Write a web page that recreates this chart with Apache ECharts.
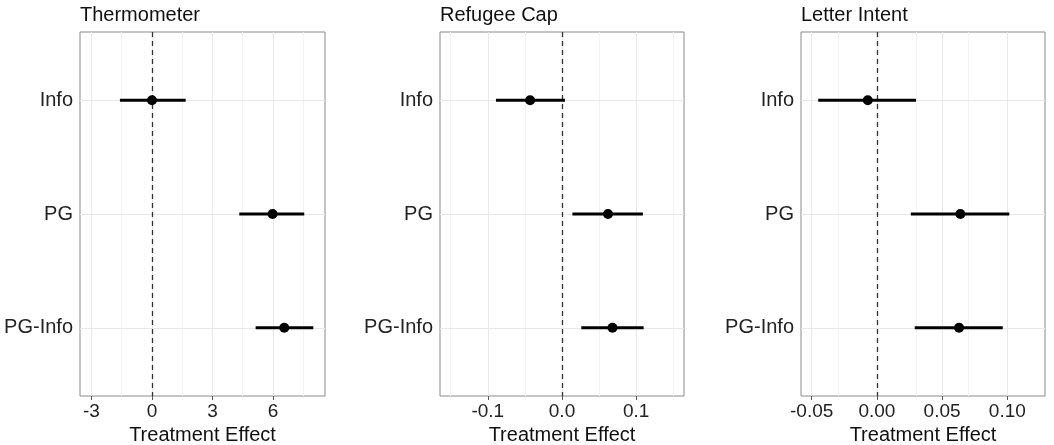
<!DOCTYPE html>
<html>
<head>
<meta charset="utf-8">
<script src="https://cdn.jsdelivr.net/npm/echarts@6/dist/echarts.min.js"></script>
<style>
html, body { margin: 0; padding: 0; background: #fff; }
#chart { width: 1054px; height: 445px; }
</style>
</head>
<body>
<div id="chart"></div>
<script>
// categories on the vertical axis (top to bottom)
var categories = ['Info', 'PG', 'PG-Info'];
var catPos = [1, 2, 3];

// Thermometer
var thermoEst = [0.0, 5.98, 6.56];
var thermoLo = [-1.59, 4.33, 5.14];
var thermoHi = [1.67, 7.55, 8.0];
// Refugee Cap
var capEst = [-0.043, 0.062, 0.068];
var capLo = [-0.089, 0.014, 0.026];
var capHi = [0.004, 0.109, 0.110];
// Letter Intent
var letterEst = [-0.007, 0.064, 0.063];
var letterLo = [-0.045, 0.026, 0.029];
var letterHi = [0.030, 0.1015, 0.0965];

// tick labels / grid lines
var thermoTicks = [-3, 0, 3, 6];
var thermoMinor = [-1.5, 1.5, 4.5, 7.5];
var capTicks = [-0.1, 0, 0.1];
var capMinor = [-0.15, -0.05, 0.05, 0.15];
var letterTicks = [-0.05, 0, 0.05, 0.10];
var letterMinor = [-0.025, 0.025, 0.075, 0.125];

var FONT = "'Liberation Sans', Helvetica, Arial, sans-serif";

var panels = [
    { title: 'Thermometer', est: thermoEst, lo: thermoLo, hi: thermoHi, ticks: thermoTicks, minor: thermoMinor,
      min: -3.57, max: 8.58, digits: 0, left: 80, right: 729 },
    { title: 'Refugee Cap', est: capEst, lo: capLo, hi: capHi, ticks: capTicks, minor: capMinor,
      min: -0.1644, max: 0.1644, digits: 1, left: 440, right: 370 },
    { title: 'Letter Intent', est: letterEst, lo: letterLo, hi: letterHi, ticks: letterTicks, minor: letterMinor,
      min: -0.0582, max: 0.1289, digits: 2, left: 801, right: 9 }
];

var myChart = echarts.init(document.getElementById('chart'));

function options() {
    var grid = [], xAxis = [], yAxis = [], title = [], series = [];
    panels.forEach(function (p, i) {
        grid.push({ left: p.left, right: p.right, top: 32, bottom: 49, show: true,
            outerBoundsMode: 'none', containLabel: false,
            borderColor: '#8a8a8a', borderWidth: 1, backgroundColor: '#fff' });
        title.push({ text: p.title, left: p.left - 5, top: 0,
            textStyle: { fontFamily: FONT, fontSize: 20, fontWeight: 'normal', color: '#111' } });
        xAxis.push({
            type: 'value', gridIndex: i, min: p.min, max: p.max,
            name: 'Treatment Effect', nameLocation: 'middle', nameGap: 26,
            nameTextStyle: { fontFamily: FONT, fontSize: 20, color: '#111' },
            axisLine: { show: false },
            axisTick: { show: true, length: 4, customValues: p.ticks, lineStyle: { color: '#555' } },
            axisLabel: { customValues: p.ticks, margin: 6, fontFamily: FONT, fontSize: 19, color: '#222',
                formatter: (function (d) { return function (v) { return v.toFixed(d); }; })(p.digits) },
            splitLine: { show: false }
        });
        yAxis.push({
            type: 'value', gridIndex: i, min: 0.4, max: 3.6, inverse: true,
            axisLine: { show: false },
            axisTick: { show: true, length: 5, customValues: catPos, lineStyle: { color: '#555' } },
            axisLabel: { customValues: catPos, margin: 7, fontFamily: FONT, fontSize: 20, color: '#222',
                formatter: function (v) { return categories[Math.round(v) - 1] || ''; } },
            splitLine: { show: false }
        });

        // background grid lines
        var gl = [];
        p.minor.forEach(function (v) { gl.push({ xAxis: v, lineStyle: { color: '#f3f3f3', width: 1, type: 'solid' } }); });
        p.ticks.forEach(function (v) { gl.push({ xAxis: v, lineStyle: { color: '#e8e8e8', width: 1, type: 'solid' } }); });
        catPos.forEach(function (v) { gl.push({ yAxis: v, lineStyle: { color: '#e8e8e8', width: 1, type: 'solid' } }); });
        series.push({
            type: 'line', xAxisIndex: i, yAxisIndex: i, data: [], z: 1, silent: true,
            markLine: { silent: true, z: 1, symbol: 'none', label: { show: false }, animation: false, data: gl }
        });
        // dashed zero line
        series.push({
            type: 'line', xAxisIndex: i, yAxisIndex: i, data: [], z: 2, silent: true,
            markLine: { silent: true, z: 2, symbol: 'none', label: { show: false }, animation: false,
                lineStyle: { color: '#333', type: [5, 4], width: 1.3 },
                data: [{ xAxis: 0 }] }
        });

        // confidence intervals
        var ci = [];
        for (var k = 0; k < categories.length; k++) ci.push([p.lo[k], p.hi[k], catPos[k]]);
        series.push({
            type: 'custom', xAxisIndex: i, yAxisIndex: i, z: 3, data: ci,
            encode: { x: [0, 1], y: 2 },
            renderItem: function (params, api) {
                var a = api.coord([api.value(0), api.value(2)]);
                var b = api.coord([api.value(1), api.value(2)]);
                return { type: 'rect', shape: { x: a[0], y: a[1] - 1.5, width: b[0] - a[0], height: 3 },
                    style: { fill: '#000', stroke: null } };
            }
        });

        // point estimates
        var pts = [];
        for (var k = 0; k < categories.length; k++) pts.push([p.est[k], catPos[k]]);
        series.push({
            type: 'scatter', xAxisIndex: i, yAxisIndex: i, z: 4, data: pts,
            symbolSize: 10, itemStyle: { color: '#000', opacity: 1 }
        });
    });
    return { animation: false, title: title, grid: grid, xAxis: xAxis, yAxis: yAxis, series: series };
}

myChart.setOption(options());
</script>
</body>
</html>
